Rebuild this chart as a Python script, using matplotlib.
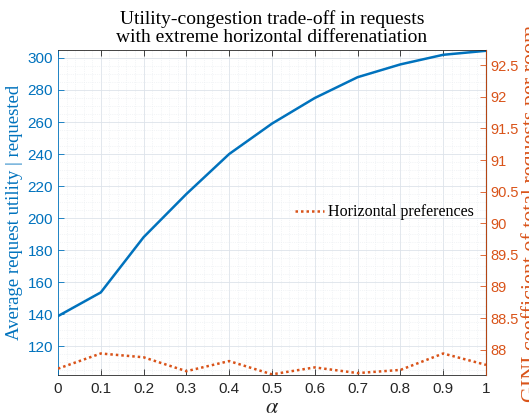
import numpy as np
import matplotlib.pyplot as plt
from matplotlib.ticker import MultipleLocator, FuncFormatter

# data
alpha = [0, 0.1, 0.2, 0.3, 0.4, 0.5, 0.6, 0.7, 0.8, 0.9, 1.0]
utility = [138.7, 153.5, 188, 215, 240, 259, 275, 288, 296, 302, 304.5]
gini = [87.70, 87.94, 87.88, 87.66, 87.82, 87.61, 87.72, 87.63, 87.68, 87.94, 87.76]

blue = '#0072BD'
orange = '#D95319'
serif = 'Liberation Serif'

plt.rcParams['font.family'] = 'Liberation Sans'
plt.rcParams['mathtext.fontset'] = 'stix'

fig = plt.figure(figsize=(5.29, 4.18), dpi=100)
ax = fig.add_axes([0.1096, 0.1029, 0.8091, 0.7775])
ax2 = ax.twinx()

ax.plot(alpha, utility, color=blue, linewidth=1.8)
ax2.plot(alpha, gini, color=orange, linewidth=1.8, linestyle=(0, (1, 1.2)),
         label='Horizontal preferences')

ax.set_xlim(0, 1)
ax.set_ylim(101.9, 305)
ax2.set_ylim(87.6, 92.74)

ax.xaxis.set_minor_locator(MultipleLocator(0.02))
ax.yaxis.set_major_locator(MultipleLocator(20))
ax.yaxis.set_minor_locator(MultipleLocator(5))
ax2.yaxis.set_major_locator(MultipleLocator(0.5))
ax2.yaxis.set_major_formatter(FuncFormatter(lambda v, p: '%g' % v))
ax.set_xticks(alpha)
ax.set_xticklabels(['%g' % a for a in alpha])

ax.grid(True, which='major', color='#dde3ea', linewidth=0.6)
ax.grid(True, which='minor', color='#e8ecf0', linewidth=0.5, linestyle=':')
ax.set_axisbelow(True)

ax.tick_params(axis='x', direction='in', top=True, labelsize=11, colors='#262626',
               length=4, width=0.6, which='major', pad=5)
ax.tick_params(axis='x', which='minor', length=0)
ax.tick_params(axis='y', direction='in', labelsize=11, colors=blue, length=4, width=0.6,
               which='major')
ax.tick_params(axis='y', which='minor', length=0)
ax2.tick_params(axis='y', direction='in', labelsize=10.5, colors=orange, length=4, width=0.6,
                pad=3)

for s in ['top', 'bottom']:
    ax.spines[s].set_color('#262626')
    ax.spines[s].set_linewidth(0.6)
ax.spines['left'].set_color(blue)
ax.spines['left'].set_linewidth(0.6)
ax2.spines['right'].set_color(orange)
ax2.spines['right'].set_linewidth(0.6)
ax2.spines['left'].set_visible(False)
ax2.spines['top'].set_visible(False)
ax2.spines['bottom'].set_visible(False)

ax.set_xlabel(r'$\alpha$', fontsize=16, color='#262626', labelpad=1)
ax.set_ylabel('Average request utility | requested', fontsize=13.5, color=blue,
              family=serif, labelpad=3)
# right label sits at the figure edge, as in the reference
fig.text(521 / 529, 0.49, 'GINI coefficient of total requests per room', fontsize=15.8,
         color=orange, family=serif, rotation=90, ha='left', va='center')

ax.set_title('Utility-congestion trade-off in requests\nwith extreme horizontal differenatiation',
             fontsize=14, family=serif, linespacing=1.05, pad=6)

leg = ax2.legend(loc='center left', bbox_to_anchor=(0.52, 0.5), frameon=False,
                 prop={'family': serif, 'size': 11.5}, handlelength=1.8, handletextpad=0.3)

fig.savefig('out.png', dpi=100)
